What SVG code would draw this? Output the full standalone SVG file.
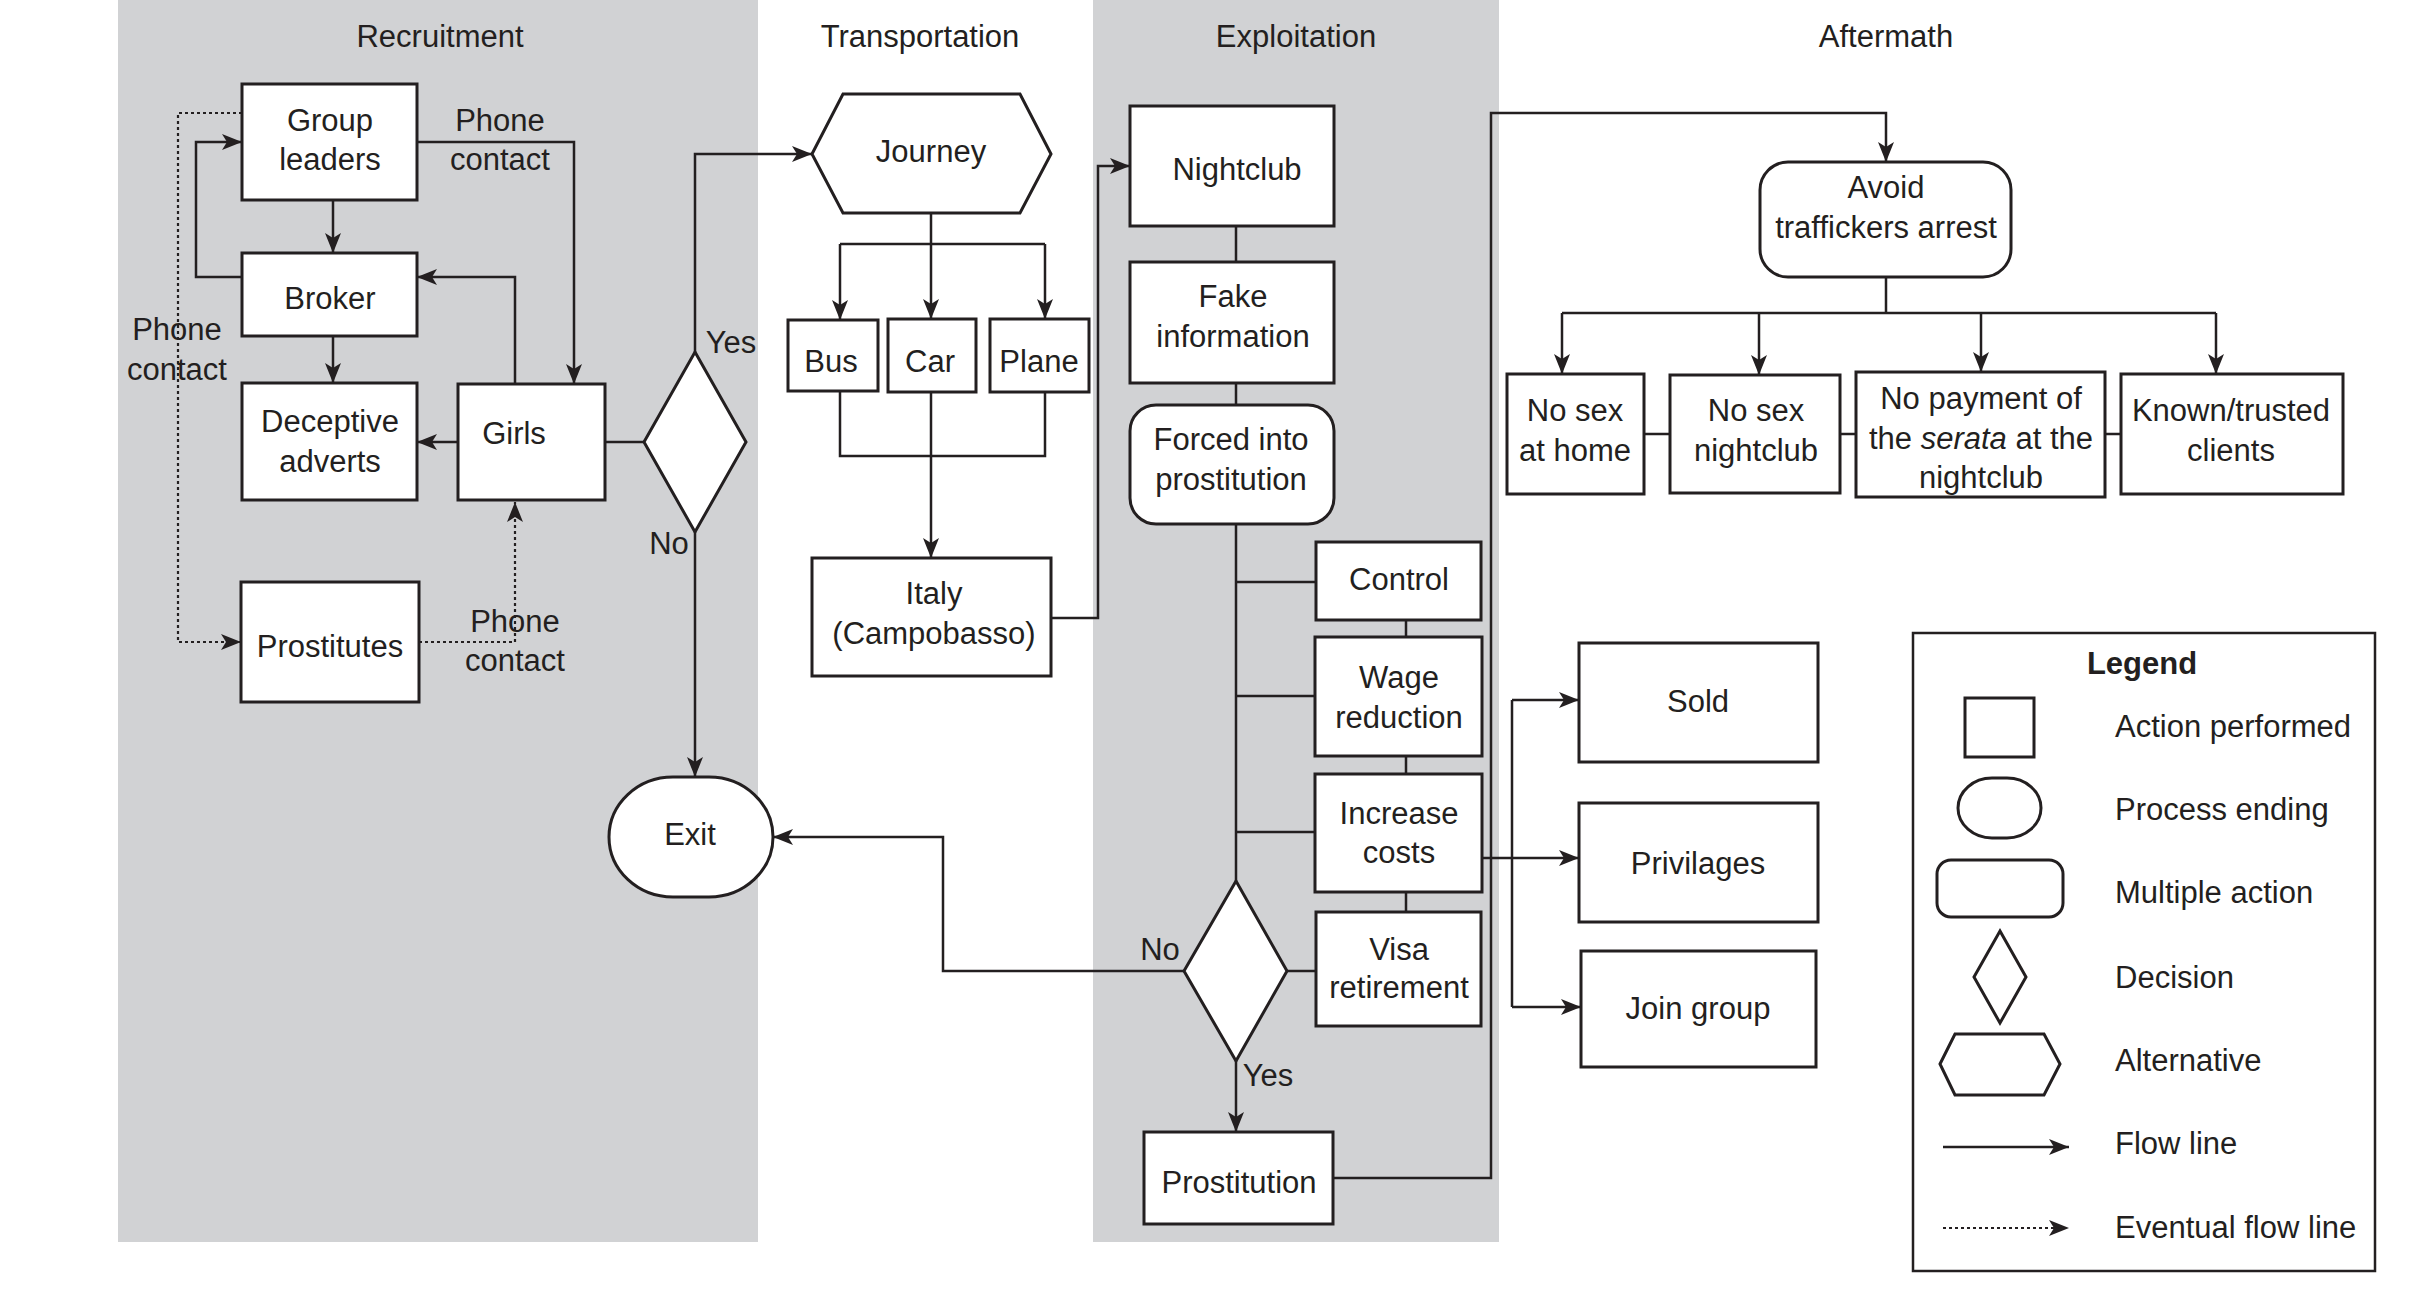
<svg xmlns="http://www.w3.org/2000/svg" width="2420" height="1314" viewBox="0 0 2420 1314">
<defs>
<style>
.t{font-family:"Liberation Sans",Arial,sans-serif;font-size:31px;fill:#231f20;text-anchor:middle}
.lg{font-family:"Liberation Sans",Arial,sans-serif;font-size:31px;fill:#231f20}
.b{fill:#fff;stroke:#231f20;stroke-width:3}
.c{fill:none;stroke:#231f20;stroke-width:2.5}
.d{fill:none;stroke:#231f20;stroke-width:2.2;stroke-dasharray:3 3}
</style>
<marker id="ar" markerUnits="userSpaceOnUse" markerWidth="22" markerHeight="18" refX="20" refY="8" orient="auto">
<path d="M0,0 L20,8 L0,16 L5,8 Z" fill="#231f20"/>
</marker>
</defs>
<rect width="2420" height="1314" fill="#fff"/>
<rect x="118" y="0" width="640" height="1242" fill="#d1d2d4"/>
<rect x="1093" y="0" width="406" height="1242" fill="#d1d2d4"/>
<g id="titles">
<text class="t" x="440" y="47">Recruitment</text>
<text class="t" x="920" y="47">Transportation</text>
<text class="t" x="1296" y="47">Exploitation</text>
<text class="t" x="1886" y="47">Aftermath</text>
</g>
<g id="connectors">
<path class="c" d="M333,200 V253" marker-end="url(#ar)"/>
<path class="c" d="M242,277 H196 V142 H242" marker-end="url(#ar)"/>
<path class="c" d="M417,142 H574 V384" marker-end="url(#ar)"/>
<path class="c" d="M515,384 V277 H417" marker-end="url(#ar)"/>
<path class="c" d="M333,336 V383" marker-end="url(#ar)"/>
<path class="c" d="M458,442 H417" marker-end="url(#ar)"/>
<path class="d" d="M242,113 H178 V642 H241" marker-end="url(#ar)"/>
<path class="d" d="M419,642 H515 V502" marker-end="url(#ar)"/>
<path class="c" d="M605,442 H644"/>
<path class="c" d="M695,352 V154 H812" marker-end="url(#ar)"/>
<path class="c" d="M695,532 V777" marker-end="url(#ar)"/>
<path class="c" d="M931,213 V244 M840,244 H1045"/>
<path class="c" d="M840,244 V320" marker-end="url(#ar)"/>
<path class="c" d="M931,244 V319" marker-end="url(#ar)"/>
<path class="c" d="M1045,244 V319" marker-end="url(#ar)"/>
<path class="c" d="M840,391 V456 H1045 V392"/>
<path class="c" d="M931,392 V558" marker-end="url(#ar)"/>
<path class="c" d="M1051,618 H1098 V166 H1130" marker-end="url(#ar)"/>
<path class="c" d="M1236,226 V262 M1236,383 V405 M1236,524 V881"/>
<path class="c" d="M1236,582 H1316 M1236,696 H1315 M1236,832 H1315"/>
<path class="c" d="M1406,620 V637 M1406,756 V774 M1406,892 V912"/>
<path class="c" d="M1287,971 H1316"/>
<path class="c" d="M1184,971 H943 V837 H773" marker-end="url(#ar)"/>
<path class="c" d="M1236,1061 V1132" marker-end="url(#ar)"/>
<path class="c" d="M1333,1178 H1491 V113 H1886 V162" marker-end="url(#ar)"/>
<path class="c" d="M1482,858 H1579" marker-end="url(#ar)"/>
<path class="c" d="M1512,700 V1007"/>
<path class="c" d="M1512,700 H1579" marker-end="url(#ar)"/>
<path class="c" d="M1512,1007 H1581" marker-end="url(#ar)"/>
<path class="c" d="M1886,277 V313 M1562,313 H2216"/>
<path class="c" d="M1562,313 V374" marker-end="url(#ar)"/>
<path class="c" d="M1759,313 V375" marker-end="url(#ar)"/>
<path class="c" d="M1981,313 V372" marker-end="url(#ar)"/>
<path class="c" d="M2216,313 V374" marker-end="url(#ar)"/>
<path class="c" d="M1644,434 H1670 M1840,434 H1856 M2105,434 H2121"/>
</g>
<g id="group-leaders"><rect class="b" x="242" y="84" width="175" height="116"/><text class="t" x="330" y="131">Group</text><text class="t" x="330" y="170">leaders</text></g>
<g id="broker"><rect class="b" x="242" y="253" width="175" height="83"/><text class="t" x="330" y="309">Broker</text></g>
<g id="deceptive-adverts"><rect class="b" x="242" y="383" width="175" height="117"/><text class="t" x="330" y="432">Deceptive</text><text class="t" x="330" y="472">adverts</text></g>
<g id="girls"><rect class="b" x="458" y="384" width="147" height="116"/><text class="t" x="514" y="444">Girls</text></g>
<g id="prostitutes"><rect class="b" x="241" y="582" width="178" height="120"/><text class="t" x="330" y="657">Prostitutes</text></g>
<g id="labels-recruitment">
<text class="t" x="500" y="131">Phone</text><text class="t" x="500" y="170">contact</text>
<text class="t" x="177" y="340">Phone</text><text class="t" x="177" y="380">contact</text>
<text class="t" x="515" y="632">Phone</text><text class="t" x="515" y="671">contact</text>
<text class="t" x="731" y="353">Yes</text>
<text class="t" x="669" y="554">No</text>
</g>
<g id="decision-1"><polygon class="b" points="695,352 746,442 695,532 644,442"/></g>
<g id="exit"><rect class="b" x="609" y="777" width="164" height="120" rx="64" ry="60"/><text class="t" x="690" y="845">Exit</text></g>
<g id="journey"><polygon class="b" points="812,154 843,94 1020,94 1051,154 1020,213 843,213"/><text class="t" x="931" y="162">Journey</text></g>
<g id="bus"><rect class="b" x="788" y="320" width="90" height="71"/><text class="t" x="831" y="372">Bus</text></g>
<g id="car"><rect class="b" x="888" y="319" width="88" height="73"/><text class="t" x="930" y="372">Car</text></g>
<g id="plane"><rect class="b" x="990" y="319" width="99" height="73"/><text class="t" x="1039" y="372">Plane</text></g>
<g id="italy"><rect class="b" x="812" y="558" width="239" height="118"/><text class="t" x="934" y="604">Italy</text><text class="t" x="934" y="644">(Campobasso)</text></g>
<g id="nightclub"><rect class="b" x="1130" y="106" width="204" height="120"/><text class="t" x="1237" y="180">Nightclub</text></g>
<g id="fake-information"><rect class="b" x="1130" y="262" width="204" height="121"/><text class="t" x="1233" y="307">Fake</text><text class="t" x="1233" y="347">information</text></g>
<g id="forced"><rect class="b" x="1130" y="405" width="204" height="119" rx="26"/><text class="t" x="1231" y="450">Forced into</text><text class="t" x="1231" y="490">prostitution</text></g>
<g id="control"><rect class="b" x="1316" y="542" width="165" height="78"/><text class="t" x="1399" y="590">Control</text></g>
<g id="wage-reduction"><rect class="b" x="1315" y="637" width="167" height="119"/><text class="t" x="1399" y="688">Wage</text><text class="t" x="1399" y="728">reduction</text></g>
<g id="increase-costs"><rect class="b" x="1315" y="774" width="167" height="118"/><text class="t" x="1399" y="824">Increase</text><text class="t" x="1399" y="863">costs</text></g>
<g id="visa-retirement"><rect class="b" x="1316" y="912" width="165" height="114"/><text class="t" x="1399" y="960">Visa</text><text class="t" x="1399" y="998">retirement</text></g>
<g id="decision-2"><polygon class="b" points="1236,881 1287,971 1236,1061 1184,971"/><text class="t" x="1160" y="960">No</text><text class="t" x="1268" y="1086">Yes</text></g>
<g id="prostitution"><rect class="b" x="1144" y="1132" width="189" height="92"/><text class="t" x="1239" y="1193">Prostitution</text></g>
<g id="sold"><rect class="b" x="1579" y="643" width="239" height="119"/><text class="t" x="1698" y="712">Sold</text></g>
<g id="privilages"><rect class="b" x="1579" y="803" width="239" height="119"/><text class="t" x="1698" y="874">Privilages</text></g>
<g id="join-group"><rect class="b" x="1581" y="951" width="235" height="116"/><text class="t" x="1698" y="1019">Join group</text></g>
<g id="avoid-arrest"><rect class="b" x="1760" y="162" width="251" height="115" rx="28"/><text class="t" x="1886" y="198">Avoid</text><text class="t" x="1886" y="238">traffickers arrest</text></g>
<g id="no-sex-home"><rect class="b" x="1507" y="374" width="137" height="120"/><text class="t" x="1575" y="421">No sex</text><text class="t" x="1575" y="461">at home</text></g>
<g id="no-sex-nightclub"><rect class="b" x="1670" y="375" width="170" height="118"/><text class="t" x="1756" y="421">No sex</text><text class="t" x="1756" y="461">nightclub</text></g>
<g id="no-payment"><rect class="b" x="1856" y="372" width="249" height="125"/><text class="t" x="1981" y="409">No payment of</text><text class="t" x="1981" y="449">the <tspan font-style="italic">serata</tspan> at the</text><text class="t" x="1981" y="488">nightclub</text></g>
<g id="known-clients"><rect class="b" x="2121" y="374" width="222" height="120"/><text class="t" x="2231" y="421">Known/trusted</text><text class="t" x="2231" y="461">clients</text></g>
<g id="legend">
<rect x="1913" y="633" width="462" height="638" fill="none" stroke="#231f20" stroke-width="2.5"/>
<text class="t" x="2142" y="674" font-weight="bold">Legend</text>
<rect class="b" x="1965" y="698" width="69" height="59" stroke-width="2.5"/>
<rect class="b" x="1958" y="778" width="83" height="60" rx="34" ry="30" stroke-width="2.5"/>
<rect class="b" x="1937" y="860" width="126" height="57" rx="14" stroke-width="2.5"/>
<polygon class="b" points="2000,931 2026,977 2000,1023 1974,977" stroke-width="2.5"/>
<polygon class="b" points="1940,1064 1955,1034 2044,1034 2060,1064 2044,1095 1955,1095" stroke-width="2.5"/>
<path class="c" d="M1943,1147 H2069" stroke-width="2" marker-end="url(#ar)"/>
<path class="d" d="M1943,1228 H2069" stroke-width="2" marker-end="url(#ar)"/>
<text class="lg" x="2115" y="737">Action performed</text>
<text class="lg" x="2115" y="820">Process ending</text>
<text class="lg" x="2115" y="903">Multiple action</text>
<text class="lg" x="2115" y="988">Decision</text>
<text class="lg" x="2115" y="1071">Alternative</text>
<text class="lg" x="2115" y="1154">Flow line</text>
<text class="lg" x="2115" y="1238">Eventual flow line</text>
</g>
</svg>
